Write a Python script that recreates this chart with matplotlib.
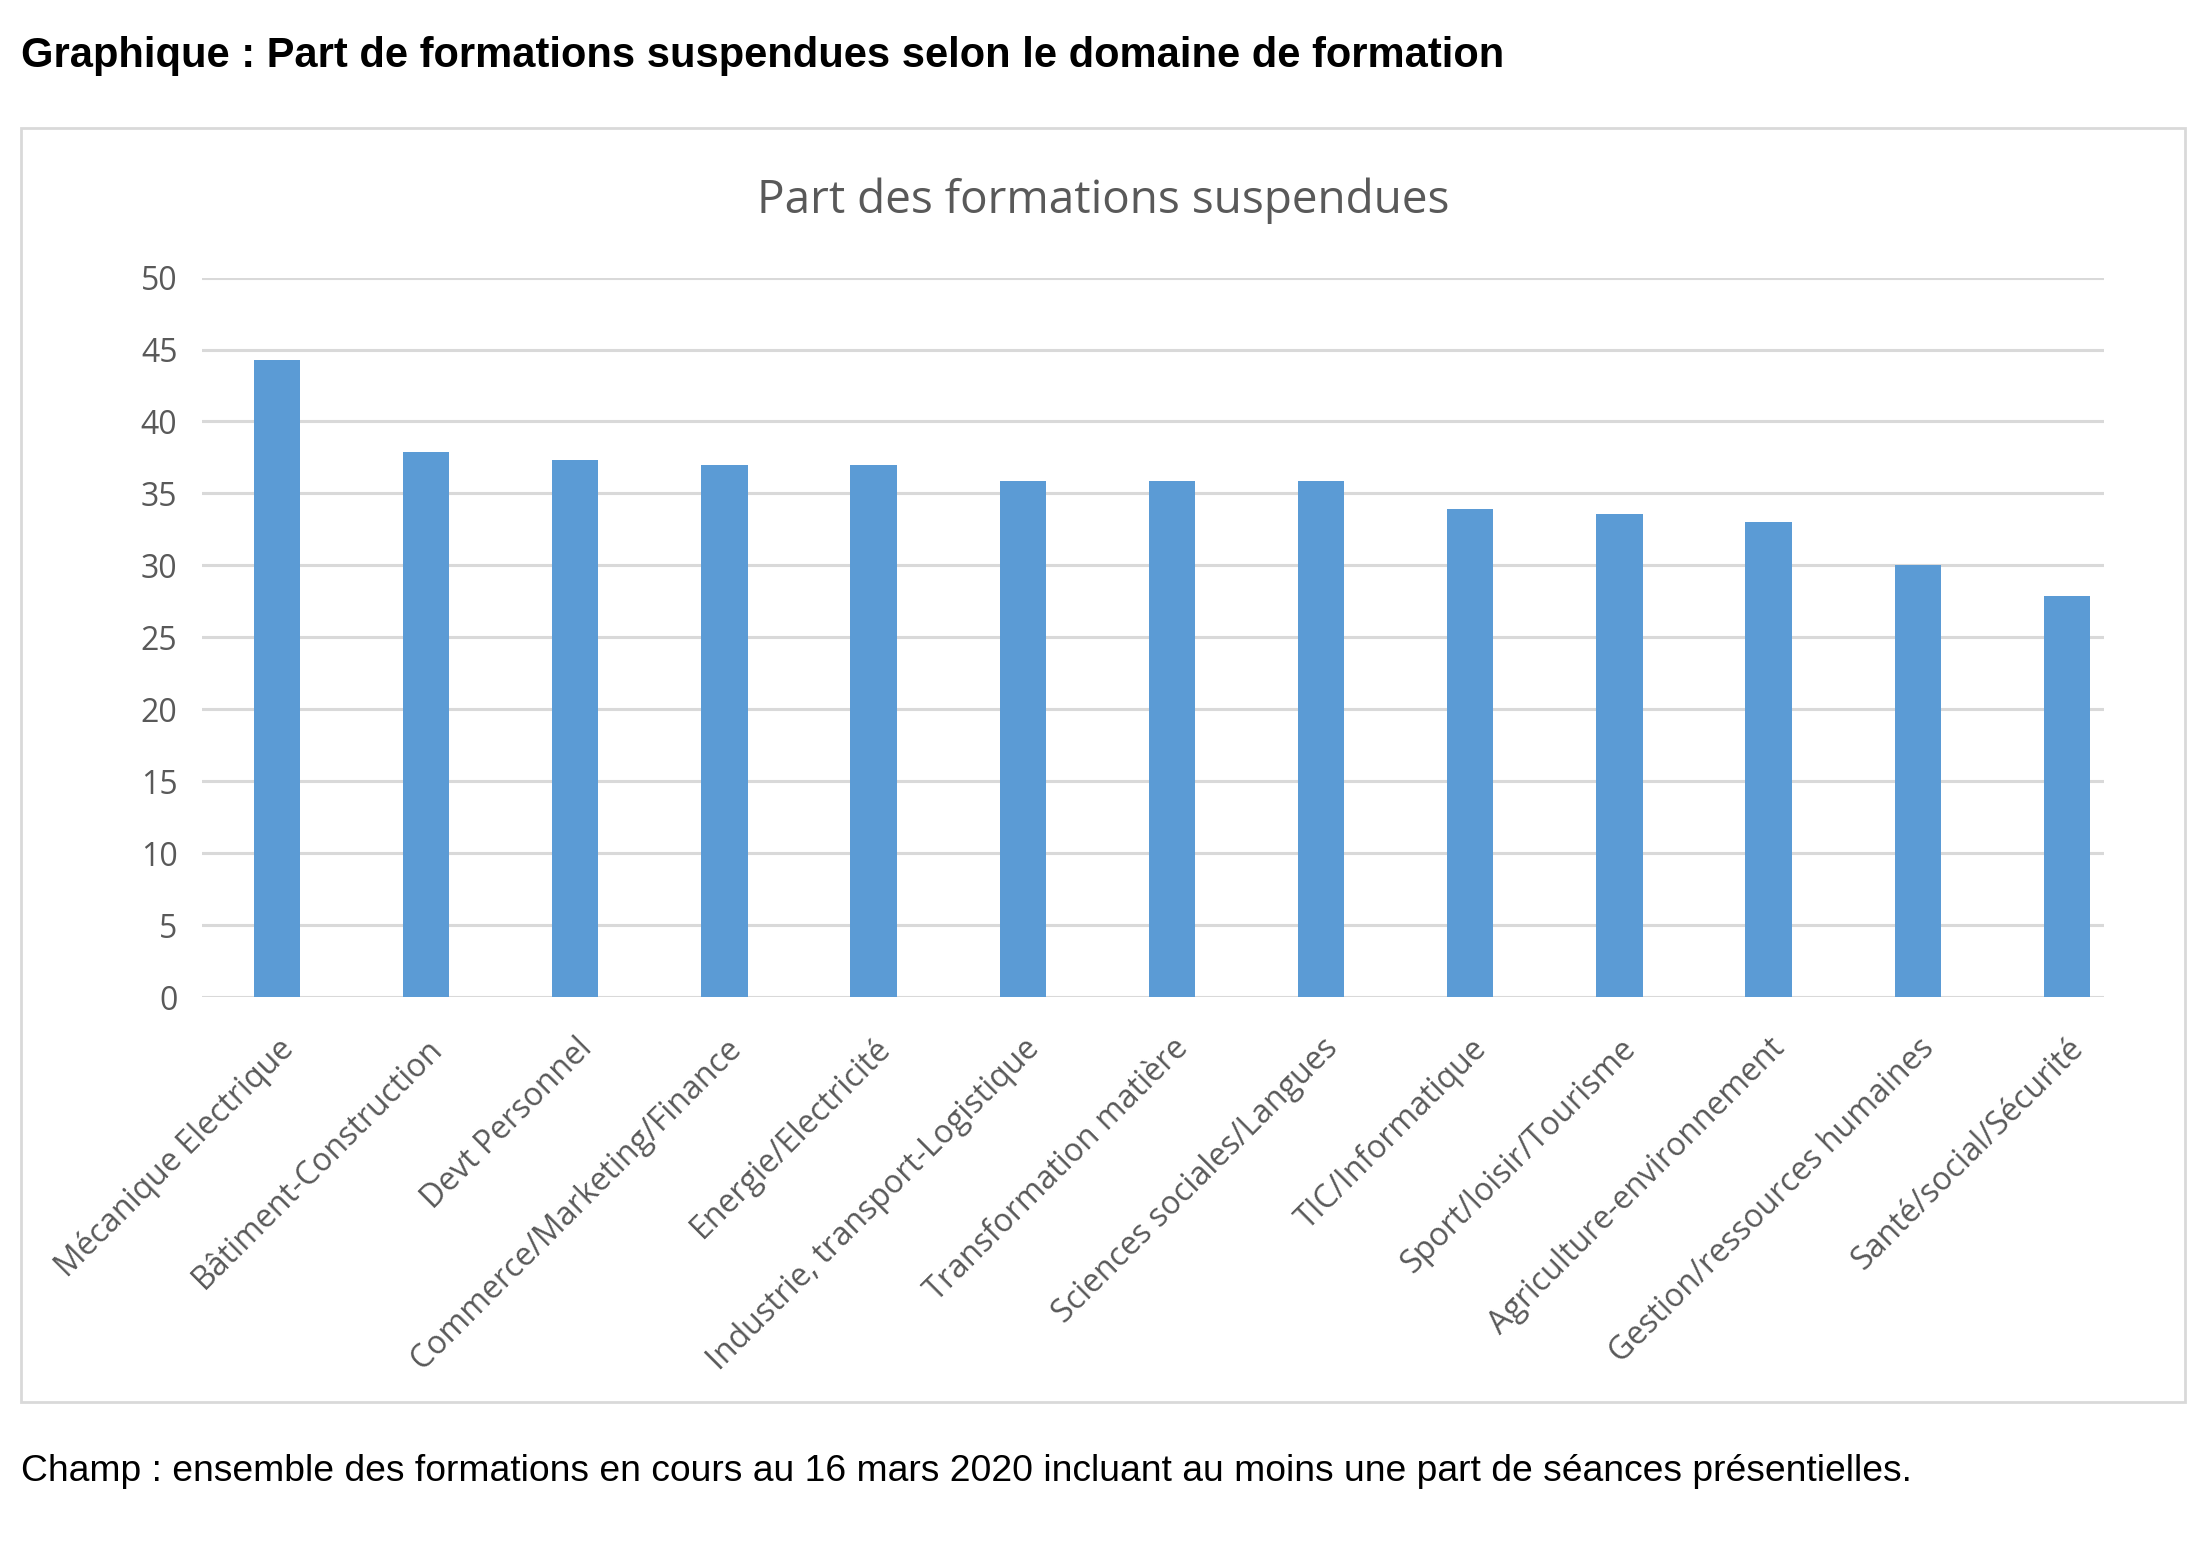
import matplotlib
matplotlib.use("Agg")
import matplotlib.pyplot as plt
from matplotlib.patches import Rectangle

domaines = ["Mécanique Electrique", "Bâtiment-Construction", "Devt Personnel",
            "Commerce/Marketing/Finance", "Energie/Electricité",
            "Industrie, transport-Logistique", "Transformation matière",
            "Sciences sociales/Langues", "TIC/Informatique",
            "Sport/loisir/Tourisme", "Agriculture-environnement",
            "Gestion/ressources humaines", "Santé/social/Sécurité"]
part_suspendues = [44.3, 37.9, 37.3, 37.0, 37.0, 35.9, 35.9, 35.9, 33.9, 33.6, 33.0, 30.0, 27.9]
yticks = [0, 5, 10, 15, 20, 25, 30, 35, 40, 45, 50]

bleu = "#5B9BD5"
gris_txt = "#595959"
gris_grille = "#D9D9D9"

fig = plt.figure(figsize=(21.88, 15.47), dpi=100)

# cadre du graphique
fig.patches.append(Rectangle((0.0096, 0.094), 0.989, 0.823, transform=fig.transFigure,
                             fill=False, edgecolor=gris_grille, linewidth=2))

ax = fig.add_axes([0.0925, 0.3553, 0.8692, 0.4653])
x = range(len(domaines))
ax.bar(x, part_suspendues, width=0.31, color=bleu, zorder=3)
ax.set_xlim(-0.5, len(domaines) - 0.75)
ax.set_ylim(0, 50)
ax.set_yticks(yticks)
ax.set_xticks(list(x))
ax.set_xticklabels(domaines, rotation=45, ha="right", va="top", rotation_mode="anchor",
                   fontsize=23, color=gris_txt, family="Open Sans")
for lab in ax.get_xticklabels():
    # petit decalage vers la gauche, comme Excel
    lab.set_x(lab.get_position()[0])
for lab in ax.get_yticklabels():
    lab.set_family("Open Sans")
ax.tick_params(axis="y", length=0, pad=18, labelsize=23, labelcolor=gris_txt)
ax.tick_params(axis="x", length=0, pad=25)
ax.grid(axis="y", color=gris_grille, linewidth=2.2, zorder=0)
for s in ax.spines.values():
    s.set_visible(False)

fig.text(0.504, 0.870, "Part des formations suspendues", ha="center", va="center",
         fontsize=33, color=gris_txt, family="Open Sans")
fig.text(0.0096, 0.964, "Graphique : Part de formations suspendues selon le domaine de formation",
         ha="left", va="center", fontsize=30, fontweight="bold", family="Liberation Sans")
fig.text(0.0096, 0.049, "Champ : ensemble des formations en cours au 16 mars 2020 incluant au moins une part de séances présentielles.",
         ha="left", va="center", fontsize=26.8, family="Liberation Sans")

fig.savefig("out.png", dpi=100)
